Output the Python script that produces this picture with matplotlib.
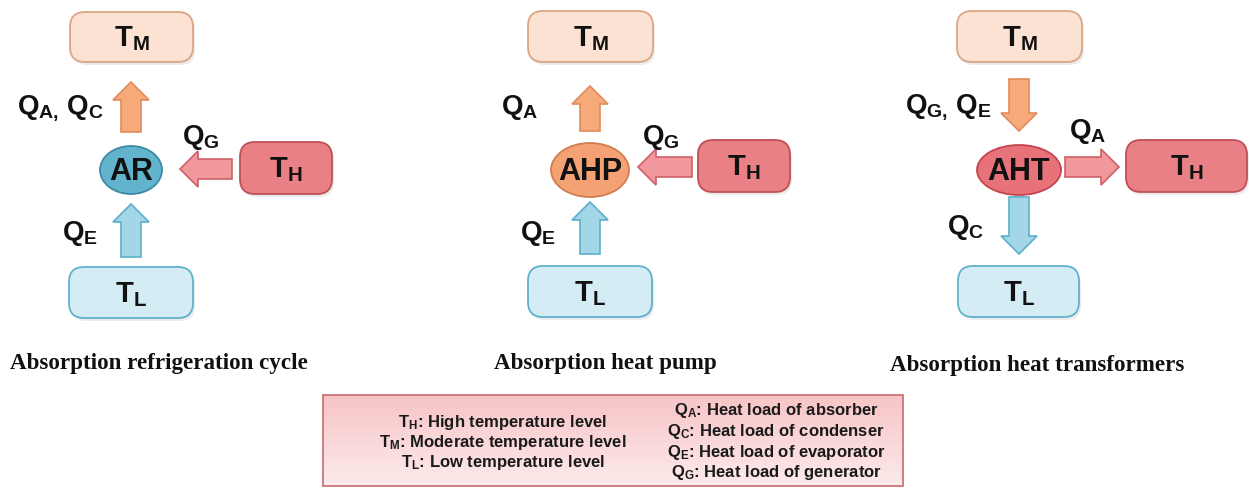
import matplotlib
matplotlib.use("Agg")
import matplotlib.pyplot as plt
import matplotlib.patches as mpatches
import numpy as np

plt.rcParams['mathtext.fontset'] = 'custom'
plt.rcParams['mathtext.rm'] = 'Liberation Sans:bold'
plt.rcParams['mathtext.bf'] = 'Liberation Sans:bold'
plt.rcParams['mathtext.it'] = 'Liberation Sans:bold'

# ---------------- content ----------------
panel_names = ["AR", "AHP", "AHT"]
panel_captions = ["Absorption refrigeration cycle", "Absorption heat pump",
                  "Absorption heat transformers"]
label_top = [r"$\mathbf{Q}_{\mathbf{A},}\,\mathbf{Q}_{\mathbf{C}}$",
             r"$\mathbf{Q}_{\mathbf{A}}$",
             r"$\mathbf{Q}_{\mathbf{G},}\,\mathbf{Q}_{\mathbf{E}}$"]
label_side = [r"$\mathbf{Q}_{\mathbf{G}}$", r"$\mathbf{Q}_{\mathbf{G}}$",
              r"$\mathbf{Q}_{\mathbf{A}}$"]
label_bottom = [r"$\mathbf{Q}_{\mathbf{E}}$", r"$\mathbf{Q}_{\mathbf{E}}$",
                r"$\mathbf{Q}_{\mathbf{C}}$"]
box_labels = {"TM": r"$\mathbf{T}_{\mathbf{M}}$",
              "TH": r"$\mathbf{T}_{\mathbf{H}}$",
              "TL": r"$\mathbf{T}_{\mathbf{L}}$"}
legend_left = [r"$\mathregular{T_H}$: High temperature level",
               r"$\mathregular{T_M}$: Moderate temperature level",
               r"$\mathregular{T_L}$: Low temperature level"]
legend_right = [r"$\mathregular{Q_A}$: Heat load of absorber",
                r"$\mathregular{Q_C}$: Heat load of condenser",
                r"$\mathregular{Q_E}$: Heat load of evaporator",
                r"$\mathregular{Q_G}$: Heat load of generator"]

# ---------------- layout (pixel coords) ----------------
W, H = 1249, 489
cx = [131, 590, 1019]              # column centre of each panel
unit_y = 170
unit_w = [62, 78, 84]
unit_h = [48, 54, 50]
unit_col = [("#62b4cc", "#3d8aa6"), ("#f4a274", "#d27d4f"), ("#e8727a", "#c2454f")]
th_box = [(240, 143, 92, 52), (698, 141, 92, 52), (1126, 141, 121, 52)]
tm_box = [(70, 13, 123, 50), (528, 12, 125, 51), (957, 12, 125, 51)]
tl_box = [(69, 268, 124, 51), (528, 267, 124, 51), (958, 267, 121, 51)]
top_arrow_y = [(133, 83), (132, 87), (80, 132)]
bot_arrow_y = [(258, 205), (255, 203), (198, 255)]
side_arrow_x = [(232, 180), (692, 638), (1065, 1119)]
side_arrow_y = [170, 168, 168]
lab_top_xy = [(60, 108), (520, 107), (948, 107)]
lab_side_xy = [(201, 137), (661, 137), (1088, 132)]
lab_bot_xy = [(80, 234), (538, 234), (966, 228)]
caption_xy = [(159, 363), (605, 363), (1037, 365)]

fig = plt.figure(figsize=(W / 100, H / 100), dpi=100)
ax = fig.add_axes([0, 0, 1, 1])
ax.set_xlim(0, W)
ax.set_ylim(H, 0)
ax.axis("off")

TM_FC, TM_EC = "#fbe2d3", "#dca584"
TH_FC, TH_EC = "#e98086", "#c04f57"
TL_FC, TL_EC = "#d4edf5", "#5fb2cc"
OR_FC, OR_EC = "#f6a979", "#e08b5c"
PK_FC, PK_EC = "#f1989c", "#cf5f68"
BL_FC, BL_EC = "#a3d6e7", "#5cafcb"


def rbox(x, y, w, h, fc, ec, label):
    sh = mpatches.FancyBboxPatch((x + 2, y + 3), w, h,
                                 boxstyle="round,pad=0,rounding_size=15",
                                 fc="#d8d8d8", ec="none", alpha=0.5, zorder=1)
    ax.add_patch(sh)
    p = mpatches.FancyBboxPatch((x, y), w, h,
                                boxstyle="round,pad=0,rounding_size=15",
                                fc=fc, ec=ec, lw=1.3, zorder=2)
    ax.add_patch(p)
    ax.text(x + w / 2, y + h / 2 + 1, label, ha="center", va="center",
            fontsize=21, color="#111111", zorder=3)


def arrow(x0, y0, x1, y1, fc, ec):
    a = mpatches.FancyArrow(x0, y0, x1 - x0, y1 - y0, width=20,
                            head_width=36, head_length=18,
                            length_includes_head=True, fc=fc, ec=ec,
                            lw=1.2, zorder=2)
    ax.add_patch(a)


for i in range(3):
    c = cx[i]
    rbox(*tm_box[i], TM_FC, TM_EC, box_labels["TM"])
    rbox(*th_box[i], TH_FC, TH_EC, box_labels["TH"])
    rbox(*tl_box[i], TL_FC, TL_EC, box_labels["TL"])

    e = mpatches.Ellipse((c, unit_y + 1), unit_w[i], unit_h[i],
                         fc=unit_col[i][0], ec=unit_col[i][1], lw=1.3, zorder=2)
    ax.add_patch(e)
    ax.text(c, unit_y + 2, panel_names[i], ha="center", va="center",
            fontsize=22, fontweight="bold", family="Liberation Sans",
            color="#111111", zorder=3)

    y0, y1 = top_arrow_y[i]
    arrow(c, y0, c, y1, OR_FC, OR_EC)
    y0, y1 = bot_arrow_y[i]
    arrow(c, y0, c, y1, BL_FC, BL_EC)
    x0, x1 = side_arrow_x[i]
    arrow(x0, side_arrow_y[i], x1, side_arrow_y[i], PK_FC, PK_EC)

    ax.text(*lab_top_xy[i], label_top[i], ha="center", va="center",
            fontsize=20, color="#111111")
    ax.text(*lab_side_xy[i], label_side[i], ha="center", va="center",
            fontsize=20, color="#111111")
    ax.text(*lab_bot_xy[i], label_bottom[i], ha="center", va="center",
            fontsize=20, color="#111111")
    ax.text(*caption_xy[i], panel_captions[i], ha="center", va="center",
            fontsize=16.6, fontweight="bold", family="Liberation Serif",
            color="#111111")

# legend box with a pink gradient
lx0, ly0, lx1, ly1 = 323, 396, 903, 487
grad = np.linspace(0, 1, 100)[:, None]
top = np.array([0.97, 0.77, 0.78])
bot = np.array([0.99, 0.92, 0.92])
img = top[None, None, :] * (1 - grad[..., None]) + bot[None, None, :] * grad[..., None]
img = np.repeat(img, 2, axis=1)
ax.imshow(img, extent=(lx0, lx1, ly1, ly0), aspect="auto", zorder=1,
          interpolation="bilinear")
ax.add_patch(mpatches.Rectangle((lx0, ly0), lx1 - lx0, ly1 - ly0, fc="none",
                                ec="#c86a6a", lw=1.2, zorder=2))
ax.set_xlim(0, W)
ax.set_ylim(H, 0)

for k, s in enumerate(legend_left):
    ax.text(503, 422 + k * 20, s, ha="center", va="center", fontsize=12,
            fontweight="bold", family="Liberation Sans", color="#1a1a1a",
            zorder=3)
for k, s in enumerate(legend_right):
    ax.text(776, 411 + k * 20.5, s, ha="center", va="center", fontsize=12,
            fontweight="bold", family="Liberation Sans", color="#1a1a1a",
            zorder=3)

fig.savefig("out.png", dpi=100)
